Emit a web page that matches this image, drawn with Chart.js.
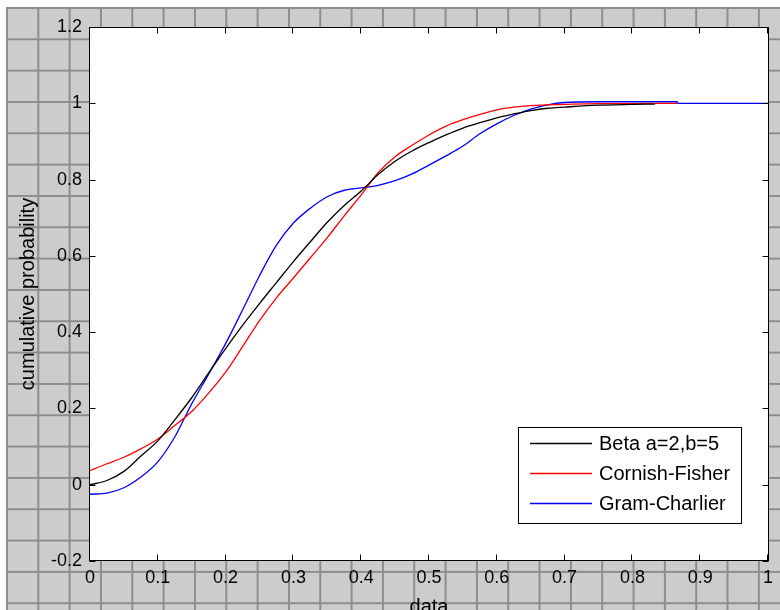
<!DOCTYPE html>
<html>
<head>
<meta charset="utf-8">
<script src="https://cdn.jsdelivr.net/npm/chart.js@4.4.1/dist/chart.umd.min.js"></script>
<style>
  html, body { margin: 0; padding: 0; background: #fff; }
  #wrap { position: relative; width: 780px; height: 610px; overflow: hidden; background: #fff; }
  #paper {
    position: absolute; left: 6px; top: 7px; right: 0; bottom: 0;
    background-color: #cccccc;
    background-image: linear-gradient(to right, #8c8c8c 2px, transparent 2px),
                      linear-gradient(to bottom, #8c8c8c 2px, transparent 2px);
    background-size: 31.33px 31.33px;
  }
  canvas { position: absolute; left: 0; top: 0; }
</style>
</head>
<body>
<div id="wrap"><div id="paper"></div><canvas id="c" width="780" height="610"></canvas></div>
<script>
// values
const betaX = [0, 0.025, 0.05, 0.075, 0.1, 0.125, 0.15, 0.175, 0.2, 0.225, 0.25, 0.275, 0.3, 0.325, 0.35, 0.375,
  0.4, 0.425, 0.45, 0.475, 0.5, 0.525, 0.55, 0.575, 0.6, 0.625, 0.65, 0.675, 0.7, 0.75, 0.8, 0.833];
const betaY = [0.000, 0.011, 0.035, 0.075, 0.115, 0.170, 0.228, 0.293, 0.357, 0.418, 0.475, 0.530, 0.585, 0.637, 0.688, 0.732,
  0.770, 0.813, 0.848, 0.875, 0.897, 0.917, 0.935, 0.949, 0.962, 0.972, 0.981, 0.987, 0.990, 0.995, 0.997, 0.998];

const cfX = [0, 0.025, 0.05, 0.075, 0.1, 0.125, 0.15, 0.175, 0.2, 0.225, 0.25, 0.275, 0.3, 0.325, 0.35, 0.375,
  0.4, 0.425, 0.45, 0.475, 0.5, 0.525, 0.55, 0.575, 0.6, 0.625, 0.65, 0.7, 0.75, 0.8, 0.866];
const cfY = [0.037, 0.055, 0.072, 0.094, 0.120, 0.155, 0.192, 0.240, 0.295, 0.362, 0.430, 0.490, 0.542, 0.595, 0.648, 0.705,
  0.760, 0.818, 0.860, 0.890, 0.917, 0.940, 0.957, 0.971, 0.983, 0.990, 0.994, 0.997, 0.999, 0.999, 1.000];

const gcX = [0, 0.025, 0.05, 0.075, 0.1, 0.125, 0.15, 0.175, 0.2, 0.225, 0.25, 0.275, 0.3, 0.325, 0.35, 0.375,
  0.4, 0.425, 0.45, 0.475, 0.5, 0.525, 0.55, 0.575, 0.6, 0.625, 0.65, 0.675, 0.7, 0.75, 0.8, 0.866, 0.867, 1];
const gcY = [-0.025, -0.022, -0.008, 0.020, 0.060, 0.125, 0.212, 0.290, 0.370, 0.458, 0.548, 0.628, 0.686, 0.725, 0.755, 0.772,
  0.778, 0.785, 0.797, 0.815, 0.838, 0.862, 0.888, 0.920, 0.946, 0.968, 0.985, 0.996, 1.002, 1.004, 1.004, 1.004, 1.000, 1.000];

const xTicks = [0, 0.1, 0.2, 0.3, 0.4, 0.5, 0.6, 0.7, 0.8, 0.9, 1];
const yTicks = [-0.2, 0, 0.2, 0.4, 0.6, 0.8, 1, 1.2];

const FONT = '"Liberation Sans", Arial, sans-serif';
const pts = (xs, ys) => xs.map((x, i) => ({ x, y: ys[i] }));

// white axes box, black frame, inward ticks on all four sides
const axesBox = {
  id: 'axesBox',
  beforeDatasetsDraw(chart) {
    const { ctx, chartArea: a } = chart;
    ctx.save();
    ctx.fillStyle = '#fff';
    ctx.fillRect(a.left, a.top, a.right - a.left, a.bottom - a.top);
    ctx.restore();
  },
  afterDraw(chart) {
    const { ctx, chartArea: a, scales } = chart;
    const L = a.left - 0.5, R = a.right + 0.5, T = a.top + 0.5, B = a.bottom - 0.5;
    ctx.save();
    ctx.strokeStyle = '#000';
    ctx.lineWidth = 1;
    ctx.beginPath();
    scales.x.ticks.forEach(t => {
      const px = Math.round(scales.x.getPixelForValue(t.value)) - 0.5;
      ctx.moveTo(px, B); ctx.lineTo(px, B - 6);
      ctx.moveTo(px, T); ctx.lineTo(px, T + 6);
    });
    scales.y.ticks.forEach(t => {
      const py = Math.round(scales.y.getPixelForValue(t.value)) + 0.5;
      ctx.moveTo(L, py); ctx.lineTo(L + 6, py);
      ctx.moveTo(R, py); ctx.lineTo(R - 6, py);
    });
    ctx.stroke();
    ctx.strokeRect(L, T, R - L, B - T);
    ctx.restore();
  }
};

const legendBox = {
  id: 'legendBox',
  afterDatasetsDraw(chart) {
    const { ctx, chartArea: a } = chart;
    const w = 223, h = 96;
    const x0 = Math.round(a.right - 27 - w), y0 = Math.round(a.bottom - 38 - h);
    ctx.save();
    ctx.fillStyle = '#fff';
    ctx.fillRect(x0, y0, w, h);
    ctx.strokeStyle = '#000';
    ctx.lineWidth = 1;
    ctx.strokeRect(x0 + 0.5, y0 + 0.5, w, h);
    ctx.font = '20px ' + FONT;
    ctx.textBaseline = 'middle';
    chart.data.datasets.forEach((ds, i) => {
      const cy = y0 + 16.5 + i * 30;
      ctx.strokeStyle = ds.borderColor;
      ctx.lineWidth = 1.3;
      ctx.beginPath();
      ctx.moveTo(x0 + 12, cy); ctx.lineTo(x0 + 74, cy);
      ctx.stroke();
      ctx.fillStyle = '#000';
      ctx.fillText(ds.label, x0 + 81, cy + 1);
    });
    ctx.restore();
  }
};

new Chart(document.getElementById('c'), {
  type: 'line',
  data: {
    datasets: [
      { label: 'Beta a=2,b=5', data: pts(betaX, betaY), borderColor: '#000000' },
      { label: 'Cornish-Fisher', data: pts(cfX, cfY), borderColor: '#ff0000' },
      { label: 'Gram-Charlier', data: pts(gcX, gcY), borderColor: '#0000ff' },
    ],
  },
  options: {
    responsive: false,
    animation: false,
    layout: { padding: { top: 27, right: 12, left: 0, bottom: 0 } },
    elements: { point: { radius: 0 }, line: { borderWidth: 1.3, cubicInterpolationMode: 'monotone', fill: false } },
    plugins: { legend: { display: false }, tooltip: { enabled: false } },
    scales: {
      x: {
        type: 'linear', min: 0, max: 1,
        afterBuildTicks: s => { s.ticks = xTicks.map(v => ({ value: v })); },
        afterFit: s => { s.height = 49; },
        grid: { display: false, drawTicks: false },
        border: { display: false },
        ticks: { padding: 6, color: '#000', font: { family: FONT, size: 18 }, maxRotation: 0, autoSkip: false,
          callback: v => String(v) },
        title: { display: true, text: 'data', color: '#000', font: { family: FONT, size: 20, lineHeight: 1 },
          padding: { top: 0, bottom: -7 } },
      },
      y: {
        type: 'linear', min: -0.2, max: 1.2,
        afterBuildTicks: s => { s.ticks = yTicks.map(v => ({ value: v })); },
        afterFit: s => { s.width = 90; },
        grid: { display: false, drawTicks: false },
        border: { display: false },
        ticks: { padding: 8, color: '#000', font: { family: FONT, size: 18 }, autoSkip: false,
          callback: v => String(v) },
        title: { display: true, text: 'cumulative probability', color: '#000',
          font: { family: FONT, size: 20, lineHeight: 1 }, padding: { top: 18 } },
      },
    },
  },
  plugins: [axesBox, legendBox],
});
</script>
</body>
</html>
